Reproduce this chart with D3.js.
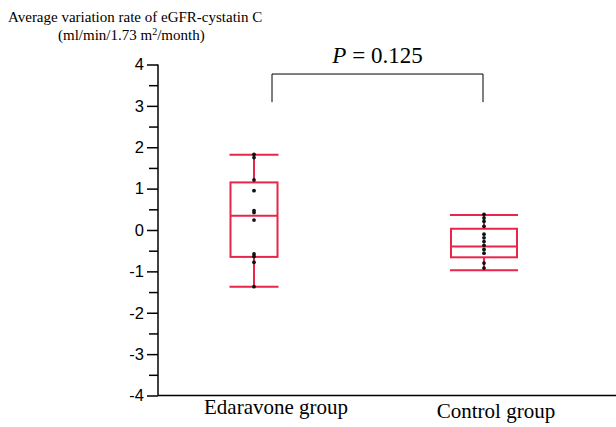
<!DOCTYPE html>
<html>
<head>
<meta charset="utf-8">
<script src="https://cdn.jsdelivr.net/npm/d3@7"></script>
<style>
  body { margin: 0; background: #fff; }
  svg { display: block; }
</style>
</head>
<body>
<svg width="616" height="427"></svg>
<script>
// data
const groups = ["Edaravone group", "Control group"];
const edaravoneValues = [1.83, 1.75, 1.21, 0.95, 0.47, 0.42, 0.24, -0.58, -0.64, -0.78, -1.37];
const controlValues = [0.38, 0.29, 0.21, 0.09, -0.10, -0.19, -0.28, -0.37, -0.47, -0.56, -0.80, -0.92];
const whiskerLow = [-1.37, -0.97];
const q1 = [-0.65, -0.66];
const medians = [0.345, -0.40];
const q3 = [1.15, 0.03];
const whiskerHigh = [1.82, 0.36];
const yTicks = [-4, -3, -2, -1, 0, 1, 2, 3, 4];
const pLabel = "0.125";
const bracketLow = 3.09, bracketHigh = 3.77;

const red = "#e8254a";
const serif = "'Liberation Serif', 'Times New Roman', serif";
const boxWidths = [47, 66];
const capWidths = [49, 68];

const svg = d3.select("svg");

let yScale = d3.scaleLinear()
  .domain([-4, 4])
  .range([395.5, 64.5]);

let xScale = d3.scalePoint()
  .domain(groups)
  .range([254, 484]);

// y axis, major + minor ticks
const minor = d3.range(-3.5, 4, 1);
svg.append("g")
  .attr("transform", "translate(158,0)")
  .call(d3.axisLeft(yScale).tickValues(minor).tickSize(9).tickFormat("").tickSizeOuter(0))
  .call(g => g.select(".domain").remove())
  .selectAll("line").attr("stroke", "#000").attr("stroke-width", 1.5);

const yAxis = svg.append("g")
  .attr("transform", "translate(158,0)")
  .call(d3.axisLeft(yScale).tickValues(yTicks).tickSize(11).tickSizeOuter(0).tickPadding(3)
    .tickFormat(d => String(d)));
yAxis.select(".domain").attr("stroke", "#000").attr("stroke-width", 1.5)
  .attr("d", "M0," + yScale(4) + "V" + yScale(-4));
yAxis.selectAll(".tick line").attr("stroke", "#000").attr("stroke-width", 1.5);
yAxis.selectAll(".tick text")
  .attr("font-family", "'Liberation Sans', Arial, sans-serif")
  .attr("font-size", 16.5)
  .attr("fill", "#000");

// bottom axis line
svg.append("line")
  .attr("x1", 158).attr("x2", 616)
  .attr("y1", yScale(-4)).attr("y2", yScale(-4))
  .attr("stroke", "#000").attr("stroke-width", 1.5);

// x labels
const labelShift = [22, 12];
const labelDrop = [18, 22];
svg.selectAll(".xlab")
  .data(groups)
  .enter().append("text")
  .attr("x", (d, i) => xScale(d) + labelShift[i])
  .attr("y", (d, i) => yScale(-4) + labelDrop[i])
  .attr("text-anchor", "middle")
  .attr("font-family", serif)
  .attr("font-size", 21)
  .attr("fill", "#000")
  .text(d => d);

// boxes
const boxes = svg.selectAll(".box")
  .data(groups)
  .enter().append("g")
  .attr("fill", "none")
  .attr("stroke", red)
  .attr("stroke-width", 2);

boxes.append("line")
  .attr("x1", d => xScale(d)).attr("x2", d => xScale(d))
  .attr("y1", (d, i) => yScale(whiskerHigh[i]))
  .attr("y2", (d, i) => yScale(whiskerLow[i]));

boxes.append("rect")
  .attr("x", (d, i) => xScale(d) - boxWidths[i] / 2)
  .attr("width", (d, i) => boxWidths[i])
  .attr("y", (d, i) => yScale(q3[i]))
  .attr("height", (d, i) => yScale(q1[i]) - yScale(q3[i]))
  .attr("fill", "#fff");

boxes.append("line")
  .attr("x1", (d, i) => xScale(d) - boxWidths[i] / 2)
  .attr("x2", (d, i) => xScale(d) + boxWidths[i] / 2)
  .attr("y1", (d, i) => yScale(medians[i]))
  .attr("y2", (d, i) => yScale(medians[i]));

[whiskerHigh, whiskerLow].forEach(arr => {
  boxes.append("line")
    .attr("x1", (d, i) => xScale(d) - capWidths[i] / 2)
    .attr("x2", (d, i) => xScale(d) + capWidths[i] / 2)
    .attr("y1", (d, i) => yScale(arr[i]))
    .attr("y2", (d, i) => yScale(arr[i]));
});

// raw points
const allValues = [edaravoneValues, controlValues];
allValues.forEach((vals, i) => {
  svg.append("g")
    .selectAll("circle")
    .data(vals)
    .enter().append("circle")
    .attr("cx", xScale(groups[i]))
    .attr("cy", d => yScale(d))
    .attr("r", 1.9)
    .attr("fill", "#111");
});

// significance bracket
const bx1 = xScale(groups[0]) + 18, bx2 = xScale(groups[1]) - 1;
svg.append("path")
  .attr("d", "M" + bx1 + "," + yScale(bracketLow) + "V" + yScale(bracketHigh) +
    "H" + bx2 + "V" + yScale(bracketLow))
  .attr("fill", "none")
  .attr("stroke", "#000")
  .attr("stroke-width", 1);

const pText = svg.append("text")
  .attr("x", (bx1 + bx2) / 2)
  .attr("y", 63)
  .attr("text-anchor", "middle")
  .attr("font-family", serif)
  .attr("font-size", 23);
pText.append("tspan").attr("font-style", "italic").text("P");
pText.append("tspan").text(" = " + pLabel);

// y title, two lines
svg.append("text")
  .attr("font-family", serif)
  .attr("font-size", 15)
  .attr("fill", "#000")
  .attr("x", 8).attr("y", 22)
  .text("Average variation rate of eGFR-cystatin C");
const t2 = svg.append("text")
  .attr("font-family", serif)
  .attr("font-size", 15)
  .attr("fill", "#000")
  .attr("x", 58).attr("y", 39.5);
t2.append("tspan").text("(ml/min/1.73 m");
t2.append("tspan").attr("font-size", 10).attr("dy", -5).text("2");
t2.append("tspan").attr("dy", 5).text("/month)");
</script>
</body>
</html>
